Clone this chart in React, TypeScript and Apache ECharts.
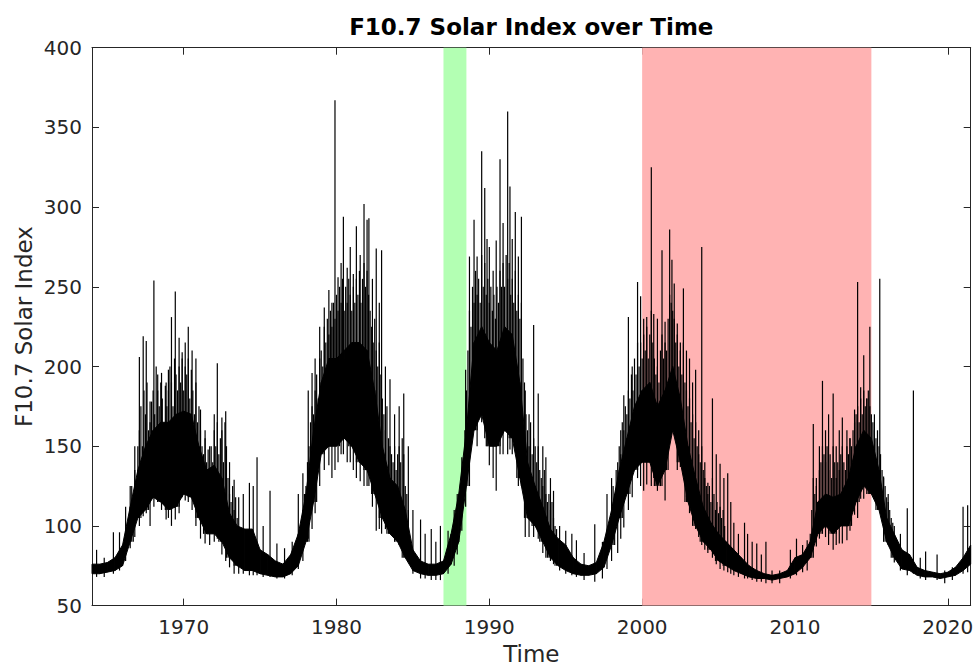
import React, { useEffect, useRef } from "react";
import * as echarts from "echarts";

// ---- data ----
const titleText = "F10.7 Solar Index over Time";
const xName = "Time";
const yName = "F10.7 Solar Index";
const xMin = 1964;
const xMax = 2021.5;
const xTicks = [1970, 1980, 1990, 2000, 2010, 2020];
const yMin = 50;
const yMax = 400;
const yStep = 50;

const greenSpan = [1987.0, 1988.5];
const redSpan = [2000, 2015];

// dense core of the daily series, every half year from 1964.0 to 2021.5
const bandStart = 1964;
const bandStep = 0.5;
const bandLow = [
  70, 70, 71, 72, 75, 90, 105, 110, 118, 115, 110, 112, 120, 118, 105, 95, 95, 90, 80, 75,
  72, 72, 70, 69, 68, 68, 70, 75, 90, 115, 145, 150, 150, 155, 150, 140, 135, 120, 105, 95,
  90, 80, 72, 70, 69, 69, 70, 76, 90, 125, 160, 170, 150, 150, 160, 155, 130, 105, 100, 90,
  80, 75, 72, 70, 69, 69, 70, 74, 88, 105, 120, 135, 140, 140, 125, 135, 160, 140, 115, 100,
  90, 85, 78, 75, 72, 70, 68, 67, 67, 66, 67, 68, 70, 74, 80, 95, 100, 95, 100, 100,
  115, 125, 120, 110, 90, 80, 73, 72, 69, 68, 68, 67, 68, 69, 72, 76,
];
const bandHigh = [
  76, 76, 77, 80, 88, 112, 135, 150, 160, 165, 165, 170, 172, 170, 150, 135, 138, 130, 108, 100,
  98, 98, 85, 82, 78, 76, 82, 95, 120, 160, 190, 205, 205, 210, 215, 215, 210, 185, 150, 130,
  125, 110, 85, 78, 76, 76, 78, 95, 120, 160, 215, 225, 215, 210, 225, 220, 190, 140, 125, 112,
  98, 92, 88, 80, 76, 75, 77, 90, 110, 135, 155, 175, 185, 190, 175, 185, 200, 180, 150, 130,
  112, 102, 95, 90, 85, 80, 75, 72, 70, 69, 70, 72, 80, 82, 90, 115, 120, 118, 120, 130,
  150, 160, 155, 135, 105, 95, 85, 82, 74, 72, 71, 70, 71, 74, 80, 88,
];

// frequent daily peaks above the core, every 0.1 year through each active phase
const grassStep = 0.1;
const grassCycle20Start = 1966.6;
const grassCycle20 = [
  125, 118, 135, 128,
  150, 160, 175, 150, 185, 170, 190, 160, 165, 178,
  185, 170, 200, 185, 175, 190, 180, 160, 188, 175,
  185, 200, 190, 175, 205, 195, 185, 200, 190, 205,
  185, 200, 195, 205, 180, 198, 185, 170, 190, 165,
  175, 160, 150, 145, 155, 140, 148, 135, 150, 140,
  160, 150, 165, 145, 155, 160, 140, 165, 150, 130,
  120, 115, 125, 110, 118, 105,
];
const grassCycle21Start = 1977.8;
const grassCycle21 = [
  110, 120,
  125, 140, 150, 165, 175, 170, 185, 195, 180, 205,
  210, 200, 225, 215, 230, 220, 235, 225, 240, 230,
  245, 235, 250, 240, 255, 235, 250, 240, 255, 245,
  235, 250, 240, 255, 245, 260, 240, 255, 265, 250,
  260, 245, 235, 225, 215, 230, 210, 200, 215, 195,
  180, 170, 160, 175, 155, 150, 145, 140, 150, 135,
  145, 150, 140, 155, 145, 125, 120, 110,
];
const grassCycle22Start = 1988.3;
const grassCycle22 = [
  140, 160, 185, 210, 235, 225, 250,
  240, 260, 245, 255, 240, 270, 250, 265, 245, 255,
  240, 250, 235, 245, 230, 250, 240, 260, 250, 265,
  250, 270, 255, 265, 245, 255, 240, 260, 235, 245,
  230, 240, 205, 190, 170, 160, 150, 165, 145, 155,
  150, 140, 150, 135, 130, 125, 135, 120, 115, 120,
  110, 115, 105, 100, 98,
];
const grassCycle23Start = 1998.0;
const grassCycle23 = [
  115, 125, 120, 135, 130, 150, 145, 165, 160, 175,
  170, 185, 180, 195, 185, 205, 195, 215, 200, 215,
  205, 220, 210, 225, 205, 220, 235, 215, 205, 195,
  200, 190, 210, 220, 205, 215, 210, 230, 245, 240,
  235, 230, 215, 220, 200, 210, 195, 215, 190, 185,
  175, 180, 165, 170, 155, 165, 150, 145, 140, 150,
  135, 130, 125, 120, 125, 115, 130, 120, 110, 115,
  108, 112, 105, 110, 100,
];
const grassCycle24Start = 2011.0;
const grassCycle24 = [
  95, 110, 130, 120, 125, 115, 135, 140, 150, 145,
  140, 150, 135, 145, 130, 150, 140, 130, 140, 135,
  145, 150, 140, 135, 150, 145, 155, 150, 160, 165,
  170, 175, 165, 180, 170, 185, 175, 180, 185, 175,
  170, 165, 160, 155, 160, 150, 145, 135, 130, 125,
  118, 115, 110, 105, 102,
];

// individual tall spikes and dips: [year, bottom, top]
const spikes = [
  [1964.3, 68, 85], [1964.8, 68, 80], [1965.4, 70, 96], [1965.8, 72, 96], [1966.2, 78, 112],
  [1966.5, 86, 125], [1966.8, 93, 150], [1967.1, 100, 206], [1967.35, 106, 219], [1967.55, 108, 216],
  [1967.8, 100, 178], [1968.05, 112, 254], [1968.3, 115, 195], [1968.55, 110, 196], [1968.85, 104, 190],
  [1969.0, 105, 198], [1969.2, 100, 231], [1969.45, 104, 247], [1969.7, 108, 218], [1969.9, 118, 209],
  [1970.1, 116, 215], [1970.3, 115, 225], [1970.55, 110, 210], [1970.8, 100, 205], [1971.1, 92, 173],
  [1971.4, 89, 160], [1971.7, 88, 150], [1972.0, 90, 170], [1972.2, 92, 202], [1972.5, 82, 168],
  [1972.75, 78, 172], [1973.0, 74, 140], [1973.3, 70, 129], [1973.6, 70, 118], [1973.9, 70, 120],
  [1974.3, 69, 127], [1974.55, 69, 125], [1974.8, 69, 143], [1975.2, 68, 100], [1975.65, 68, 122],
  [1976.1, 67, 89], [1976.6, 67, 86],
  [1977.1, 69, 90], [1977.5, 73, 120], [1977.8, 78, 133], [1978.15, 92, 185], [1978.4, 98, 196],
  [1978.6, 108, 205], [1978.9, 125, 225], [1979.2, 135, 237], [1979.5, 138, 248], [1979.7, 130, 240],
  [1979.9, 135, 367], [1980.1, 140, 256], [1980.3, 145, 265], [1980.45, 145, 294], [1980.7, 140, 262],
  [1980.9, 140, 275], [1981.1, 135, 258], [1981.3, 130, 288], [1981.55, 128, 270], [1981.8, 125, 302],
  [1982.0, 125, 292], [1982.12, 125, 293], [1982.35, 112, 255], [1982.6, 97, 274], [1982.8, 98, 240],
  [1982.95, 95, 273], [1983.2, 98, 200], [1983.5, 97, 192], [1983.8, 92, 170], [1984.1, 88, 175],
  [1984.4, 85, 183], [1984.7, 78, 150], [1985.0, 70, 110], [1985.5, 67, 104], [1985.8, 67, 95],
  [1986.2, 66, 98], [1986.5, 66, 90], [1986.8, 66, 100],
  [1987.3, 70, 97], [1987.7, 75, 110], [1987.9, 82, 120], [1988.2, 97, 143], [1988.45, 112, 198],
  [1988.7, 145, 269], [1989.0, 160, 292], [1989.2, 150, 269], [1989.5, 165, 335], [1989.7, 155, 312],
  [1989.85, 150, 280], [1990.0, 138, 275], [1990.25, 130, 260], [1990.45, 122, 279], [1990.7, 145, 330],
  [1990.9, 145, 290], [1991.2, 145, 360], [1991.35, 148, 313], [1991.5, 145, 280], [1991.7, 150, 297],
  [1991.9, 125, 269], [1992.1, 125, 294], [1992.35, 93, 185], [1992.6, 93, 170], [1992.9, 93, 226],
  [1993.2, 92, 183], [1993.5, 83, 150], [1993.7, 80, 143], [1994.0, 78, 130], [1994.2, 76, 122],
  [1994.6, 72, 100], [1995.0, 70, 97], [1995.4, 69, 95], [1995.7, 68, 91], [1996.2, 66, 83],
  [1996.9, 65, 101], [1997.4, 67, 90],
  [1997.7, 73, 120], [1998.0, 78, 130], [1998.4, 83, 140], [1998.6, 92, 160], [1998.8, 99, 182],
  [1999.1, 110, 231], [1999.35, 118, 200], [1999.7, 130, 253], [1999.9, 125, 244], [2000.1, 122, 230],
  [2000.3, 126, 231], [2000.6, 125, 325], [2000.76, 130, 233], [2001.0, 122, 230], [2001.3, 125, 273],
  [2001.5, 116, 228], [2001.8, 160, 286], [2001.95, 165, 267], [2002.1, 170, 252], [2002.3, 135, 227],
  [2002.5, 137, 215], [2002.7, 133, 249], [2002.9, 118, 210], [2003.1, 108, 205], [2003.3, 103, 190],
  [2003.5, 98, 198], [2003.7, 93, 160], [2003.9, 88, 275], [2004.1, 85, 140], [2004.3, 83, 127],
  [2004.6, 80, 180], [2004.85, 76, 145], [2005.1, 73, 139], [2005.35, 72, 130], [2005.6, 71, 133],
  [2005.8, 70, 115], [2006.0, 69, 102], [2006.3, 68, 95], [2006.7, 67, 102], [2006.9, 67, 95],
  [2007.2, 66, 90], [2007.5, 65, 89], [2007.8, 65, 82], [2008.1, 64, 90], [2008.5, 64, 72],
  [2009.0, 64, 72],
  [2009.7, 67, 85], [2010.1, 69, 92], [2010.5, 71, 88], [2010.8, 72, 91], [2011.2, 85, 164],
  [2011.4, 87, 130], [2011.6, 92, 150], [2011.8, 95, 191], [2012.0, 93, 160], [2012.2, 88, 170],
  [2012.5, 85, 183], [2012.7, 88, 150], [2012.9, 89, 160], [2013.1, 89, 168], [2013.4, 91, 160],
  [2013.6, 97, 155], [2013.9, 107, 173], [2014.1, 105, 253], [2014.3, 117, 187], [2014.5, 117, 207],
  [2014.7, 120, 180], [2014.9, 120, 225], [2015.2, 117, 170], [2015.55, 117, 255], [2015.8, 102, 131],
  [2016.1, 88, 120], [2016.5, 77, 100], [2016.9, 72, 95], [2017.35, 69, 111], [2017.75, 70, 185],
  [2018.2, 67, 80], [2018.55, 66, 84], [2019.3, 66, 82], [2019.8, 64, 72], [2020.3, 66, 74],
  [2021.0, 70, 112], [2021.3, 71, 113],
];

const FONT = "DejaVu Sans";
const AXIS_COLOR = "#262626";

export default function App() {
  const ref = useRef<HTMLDivElement>(null);

  useEffect(() => {
    if (!ref.current) return;
    const chart = echarts.init(ref.current, null, { renderer: "svg" });

    const bandRows = bandLow.map((lo, i) => [bandStart + i * bandStep, lo, bandHigh[i]]);
    const lowAt = (x: number) => {
      const k = Math.min(bandLow.length - 1, Math.max(0, Math.round((x - bandStart) / bandStep)));
      return bandLow[k];
    };
    const grassRows: number[][] = [];
    [
      [grassCycle20Start, grassCycle20],
      [grassCycle21Start, grassCycle21],
      [grassCycle22Start, grassCycle22],
      [grassCycle23Start, grassCycle23],
      [grassCycle24Start, grassCycle24],
    ].forEach(([start, tops]: any) => {
      tops.forEach((top: number, i: number) => {
        const x = start + i * grassStep;
        grassRows.push([x, lowAt(x), top]);
      });
    });
    const strokeRows = grassRows.concat(spikes as number[][]);

    const spanRows = [
      [greenSpan[0], greenSpan[1], 0],
      [redSpan[0], redSpan[1], 1],
    ];
    const spanColors = ["#b3ffb3", "#ffb3b3"];

    const commonX = {
      type: "value",
      min: xMin,
      max: xMax,
      splitLine: { show: false },
      axisLine: { show: true, onZero: false, lineStyle: { color: AXIS_COLOR, width: 1 } },
    };
    const commonY = {
      type: "value",
      min: yMin,
      max: yMax,
      interval: yStep,
      splitLine: { show: false },
      axisLine: { show: true, onZero: false, lineStyle: { color: AXIS_COLOR, width: 1 } },
    };

    chart.setOption({
      animation: false,
      backgroundColor: "#ffffff",
      grid: {
        left: 92,
        right: 2.3,
        top: 47.7,
        bottom: 61.4,
        containLabel: false,
        outerBoundsMode: "none",
      },
      xAxis: [
        {
          ...commonX,
          position: "bottom",
          axisTick: {
            show: true,
            inside: true,
            length: 7,
            customValues: xTicks,
            lineStyle: { color: AXIS_COLOR },
          },
          axisLabel: {
            show: true,
            customValues: xTicks,
            formatter: (v: number) => String(v),
            margin: 11,
            fontSize: 20,
            fontFamily: FONT,
            color: AXIS_COLOR,
          },
        },
        {
          ...commonX,
          position: "top",
          axisTick: {
            show: true,
            inside: true,
            length: 7,
            customValues: xTicks,
            lineStyle: { color: AXIS_COLOR },
          },
          axisLabel: { show: false },
        },
      ],
      yAxis: [
        {
          ...commonY,
          position: "left",
          axisTick: { show: true, inside: true, length: 7, lineStyle: { color: AXIS_COLOR } },
          axisLabel: {
            show: true,
            margin: 10,
            fontSize: 20,
            fontFamily: FONT,
            color: AXIS_COLOR,
          },
        },
        {
          ...commonY,
          position: "right",
          axisTick: { show: true, inside: true, length: 7, lineStyle: { color: AXIS_COLOR } },
          axisLabel: { show: false },
        },
      ],
      graphic: [
        {
          type: "text",
          x: 531.3,
          y: 26.7,
          style: {
            text: titleText,
            font: `bold 23px "${FONT}"`,
            fill: "#000000",
            textAlign: "center",
            textVerticalAlign: "middle",
          },
        },
        {
          type: "text",
          x: 531.3,
          y: 654,
          style: {
            text: xName,
            font: `23px "${FONT}"`,
            fill: AXIS_COLOR,
            textAlign: "center",
            textVerticalAlign: "middle",
          },
        },
        {
          type: "text",
          x: 24,
          y: 326.6,
          rotation: Math.PI / 2,
          style: {
            text: yName,
            font: `23px "${FONT}"`,
            fill: AXIS_COLOR,
            textAlign: "center",
            textVerticalAlign: "middle",
          },
        },
      ],
      series: [
        {
          type: "custom",
          name: "spans",
          xAxisIndex: 0,
          yAxisIndex: 0,
          z: 1,
          silent: true,
          data: spanRows,
          encode: { x: [0, 1] },
          renderItem: (params: any, api: any) => {
            const a = api.coord([api.value(0), yMax]);
            const b = api.coord([api.value(1), yMin]);
            return {
              type: "rect",
              shape: { x: a[0], y: a[1], width: b[0] - a[0], height: b[1] - a[1] },
              style: { fill: spanColors[api.value(2)] },
            };
          },
        },
        {
          type: "custom",
          name: "core",
          xAxisIndex: 0,
          yAxisIndex: 0,
          z: 2,
          silent: true,
          data: bandRows,
          encode: { x: 0, y: [1, 2] },
          renderItem: (params: any, api: any) => {
            const i = params.dataIndex;
            if (i >= bandRows.length - 1) return { type: "group", children: [] };
            const r0 = bandRows[i];
            const r1 = bandRows[i + 1];
            const pts = [
              api.coord([r0[0], r0[2]]),
              api.coord([r1[0], r1[2]]),
              api.coord([r1[0], r1[1]]),
              api.coord([r0[0], r0[1]]),
            ];
            return {
              type: "polygon",
              shape: { points: pts },
              style: { fill: "#000000", stroke: "#000000", lineWidth: 1 },
            };
          },
        },
        {
          type: "custom",
          name: "strokes",
          xAxisIndex: 0,
          yAxisIndex: 0,
          z: 3,
          silent: true,
          data: strokeRows,
          encode: { x: 0, y: [1, 2] },
          renderItem: (params: any, api: any) => {
            const x = api.value(0);
            const a = api.coord([x, api.value(1)]);
            const b = api.coord([x, api.value(2)]);
            return {
              type: "line",
              shape: { x1: a[0], y1: a[1], x2: b[0], y2: b[1] },
              style: { stroke: "#000000", lineWidth: 1.2 },
            };
          },
        },
      ],
    });

    return () => chart.dispose();
  }, []);

  return (
    <div
      ref={ref}
      style={{ position: "fixed", left: 0, top: 0, width: 973, height: 667, background: "#fff" }}
    />
  );
}
